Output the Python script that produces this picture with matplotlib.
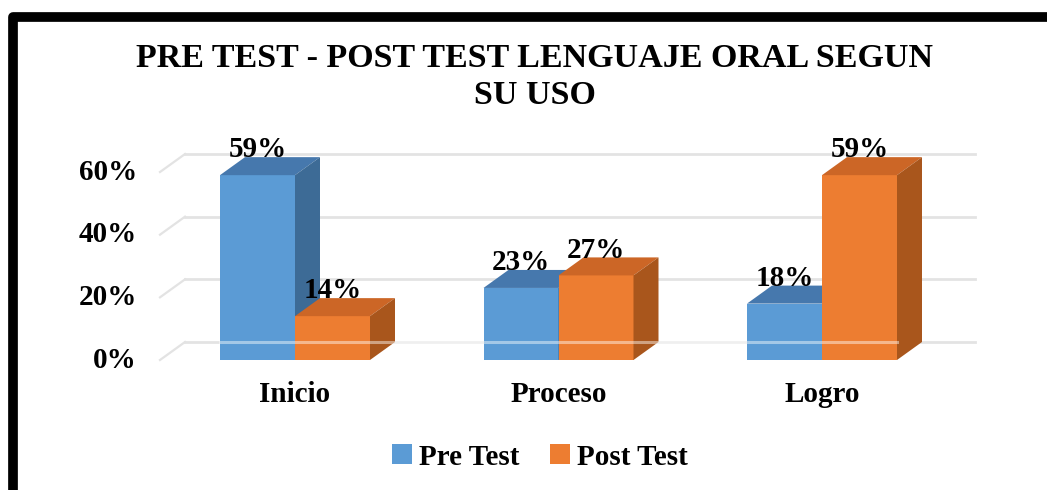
import matplotlib
matplotlib.use("Agg")
import matplotlib.pyplot as plt
from matplotlib.patches import Polygon, Patch, Rectangle

categories = ["Inicio", "Proceso", "Logro"]
series_names = ["Pre Test", "Post Test"]
pre_test = [59, 23, 18]
post_test = [14, 27, 59]
yticks = [0, 20, 40, 60]
ytick_labels = ["0%", "20%", "40%", "60%"]
title = "PRE TEST - POST TEST LENGUAJE ORAL SEGUN\nSU USO"

W, H = 1047, 490
fig = plt.figure(figsize=(W / 100, H / 100), dpi=100)
fig.patch.set_facecolor("white")

# axes in pixel terms
px_left, px_right, px_top, px_bot = 150, 1000, 120, 380
ax = fig.add_axes([px_left / W, (H - px_bot) / H, (px_right - px_left) / W, (px_bot - px_top) / H])
ppu_y = 3.133  # pixels per percent
ppu_x = 263.5  # pixels per category
x0_px, y0_px = 295, 360
ax.set_xlim((px_left - x0_px) / ppu_x, (px_right - x0_px) / ppu_x)
ax.set_ylim((y0_px - px_bot) / ppu_y, (y0_px - px_top) / ppu_y)
ax.axis("off")

font = "Liberation Serif"
bw = 75 / ppu_x       # bar width
ddx = 25 / ppu_x      # depth offset x
ddy = 18 / ppu_y      # depth offset y

# back-wall gridlines with side-wall diagonal
grid_col = "#E3E3E3"
for t in yticks:
    xl = (160 - x0_px) / ppu_x
    ax.plot([xl, xl + ddx], [t, t + ddy], color=grid_col, lw=1.6, zorder=1)
    ax.plot([xl + ddx, (975 - x0_px) / ppu_x], [t + ddy, t + ddy], color=grid_col, lw=2.0, zorder=1)

colors = {
    "Pre Test": ("#5B9BD5", "#4678AD", "#3D6B96"),
    "Post Test": ("#ED7D31", "#CC6626", "#A9561C"),
}

def bar3d(xl, v, cols, z):
    front, top, side = cols
    xr = xl + bw
    ax.add_patch(Polygon([(xl, 0), (xr, 0), (xr, v), (xl, v)], closed=True, fc=front, ec="none", zorder=z))
    ax.add_patch(Polygon([(xl, v), (xr, v), (xr + ddx, v + ddy), (xl + ddx, v + ddy)], closed=True, fc=top, ec="none", zorder=z))
    ax.add_patch(Polygon([(xr, 0), (xr + ddx, ddy), (xr + ddx, v + ddy), (xr, v)], closed=True, fc=side, ec="none", zorder=z))

for i, cat in enumerate(categories):
    for j, (name, vals) in enumerate(zip(series_names, [pre_test, post_test])):
        xl = i - bw + j * bw
        v = vals[i]
        bar3d(xl, v, colors[name], 3 + j)
        ax.text(xl + bw / 2, v + ddy - 2.0, f"{v}%", ha="center", va="bottom",
                fontsize=21, fontweight="bold", family=font, color="black", zorder=10)

# faint floor line over bars (as in reference)
ax.plot([-bw, 2 + bw], [ddy, ddy], color="white", lw=2.2, alpha=0.45, zorder=8)

# y tick labels
for t, lab in zip(yticks, ytick_labels):
    ax.text((137 - x0_px) / ppu_x, t, lab, ha="right", va="center",
            fontsize=21, fontweight="bold", family=font, color="black")

# category labels
for i, cat in enumerate(categories):
    ax.text(i, (y0_px - 394) / ppu_y, cat, ha="center", va="center",
            fontsize=21, fontweight="bold", family=font, color="black")

fig.text(535 / W, 1 - 77 / H, title, ha="center", va="center", fontsize=24.5,
         fontweight="bold", family=font, linespacing=1.22)

handles = [Patch(facecolor=colors[n][0], edgecolor="none") for n in series_names]
leg = fig.legend(handles, series_names, loc="center", bbox_to_anchor=(540 / W, 1 - 457 / H),
                 ncol=2, frameon=False, handlelength=0.68, handleheight=0.68,
                 handletextpad=0.25, columnspacing=1.05,
                 prop={"family": font, "weight": "bold", "size": 21})

# thick black border (top and left edges visible)
fig.add_artist(Rectangle((12.5 / W, -0.2), 1.2, (H - 17) / H + 0.2, transform=fig.transFigure,
                         fill=False, ec="black", lw=7, joinstyle="round"))

fig.savefig("out.png", dpi=100, facecolor="white")
